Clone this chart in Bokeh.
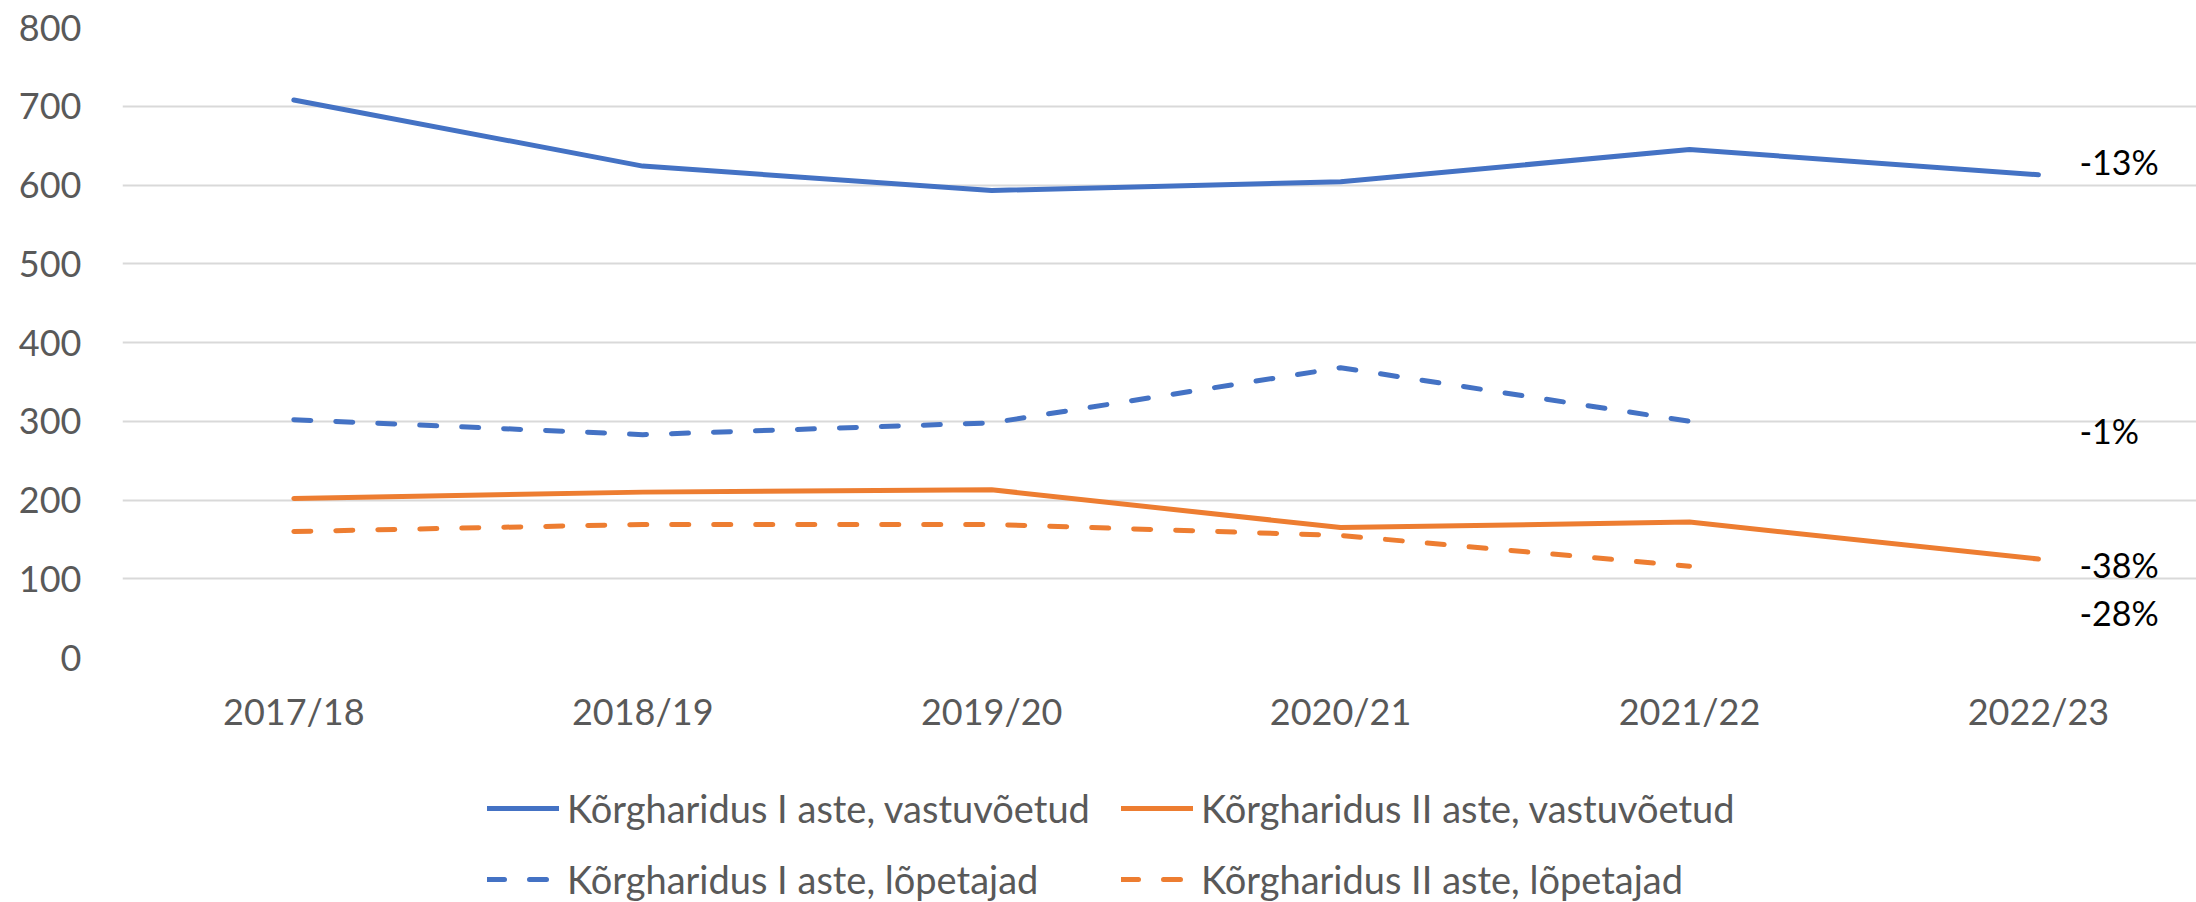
from bokeh.plotting import figure
from bokeh.models import Range1d, FixedTicker, Legend, LegendItem, Label
from bokeh.layouts import column
from bokeh.embed import file_html
from bokeh.resources import INLINE

years = ["2017/18", "2018/19", "2019/20", "2020/21", "2021/22", "2022/23"]
bak_admitted = [708, 624, 593, 604, 645, 613]
bak_graduates = [302, 283, 298, 368, 300]
mag_admitted = [202, 210, 213, 165, 172, 125]
mag_graduates = [160, 169, 169, 155, 116]
change_labels = ["-13%", "-1%", "-38%", "-28%"]
change_label_y = [630, 288, 118, 57]
y_ticks = [0, 100, 200, 300, 400, 500, 600, 700, 800]
series_names = ["Kõrgharidus I aste, vastuvõetud", "Kõrgharidus II aste, vastuvõetud",
                "Kõrgharidus I aste, lõpetajad", "Kõrgharidus II aste, lõpetajad"]

BLUE = "#4472C4"
ORANGE = "#ED7D31"
GREY_TXT = "#595959"
FONT = "Lato"
DASH = "17 25"

xs = list(range(len(years)))
series = [
    (xs, bak_admitted, BLUE, "solid"),
    (xs, mag_admitted, ORANGE, "solid"),
    (xs[:len(bak_graduates)], bak_graduates, BLUE, DASH),
    (xs[:len(mag_graduates)], mag_graduates, ORANGE, DASH),
]


def draw(fig):
    return [fig.line(x, y, line_color=c, line_width=5, line_dash=d,
                     line_cap="round", line_join="round") for x, y, c, d in series]


# ---- main chart ----
p = figure(width=2196, height=745, frame_width=2074, frame_height=630,
           output_backend="svg", toolbar_location=None,
           x_range=Range1d(-0.491, 5.453), y_range=Range1d(0, 800),
           min_border_left=122, min_border_right=0, min_border_top=27,
           min_border_bottom=88)
p.outline_line_color = None
p.background_fill_color = "white"
p.border_fill_color = "white"
draw(p)

p.xaxis.ticker = FixedTicker(ticks=xs)
p.xaxis.major_label_overrides = {i: y for i, y in enumerate(years)}
p.yaxis.ticker = FixedTicker(ticks=y_ticks)
for ax in (p.xaxis[0], p.yaxis[0]):
    ax.axis_line_color = None
    ax.major_tick_line_color = None
    ax.minor_tick_line_color = None
    ax.major_tick_out = 0
    ax.major_tick_in = 0
    ax.major_label_text_font = FONT
    ax.major_label_text_font_size = "36px"
    ax.major_label_text_color = GREY_TXT
p.yaxis.major_label_standoff = 41
p.xaxis.major_label_standoff = 31

p.xgrid.grid_line_color = None
p.ygrid.ticker = FixedTicker(ticks=y_ticks)
p.ygrid.grid_line_color = "#D9D9D9"
p.ygrid.grid_line_width = 2

for txt, yy in zip(change_labels, change_label_y):
    p.add_layout(Label(x=xs[-1], y=yy, x_offset=41, text=txt, text_baseline="middle",
                       text_align="left", text_font=FONT, text_font_size="34px",
                       text_color="black"))

# ---- legend strip (same series, view range kept away from the data) ----
lf = figure(width=2196, height=157, frame_width=2196, frame_height=157,
            output_backend="svg", toolbar_location=None,
            x_range=Range1d(0, 1), y_range=Range1d(1000, 1100),
            x_axis_location=None, y_axis_location=None,
            min_border_left=0, min_border_right=0, min_border_top=0, min_border_bottom=0)
lf.outline_line_color = None
lf.xgrid.visible = False
lf.ygrid.visible = False
lf.background_fill_color = "white"
lf.border_fill_color = "white"
lr = draw(lf)

legend = Legend(items=[LegendItem(label=n, renderers=[r]) for n, r in zip(series_names, lr)],
                orientation="horizontal", ncols=2, location=(487, 0),
                label_text_font=FONT, label_text_font_size="38px", label_text_color=GREY_TXT,
                glyph_width=72, glyph_height=40, label_standoff=8, spacing=25,
                label_height=44, label_width=529,
                padding=0, margin=0, border_line_color=None, background_fill_alpha=0)
lf.add_layout(legend, "center")

layout = column(p, lf, spacing=0)
open("out.html", "w").write(file_html(layout, INLINE))
